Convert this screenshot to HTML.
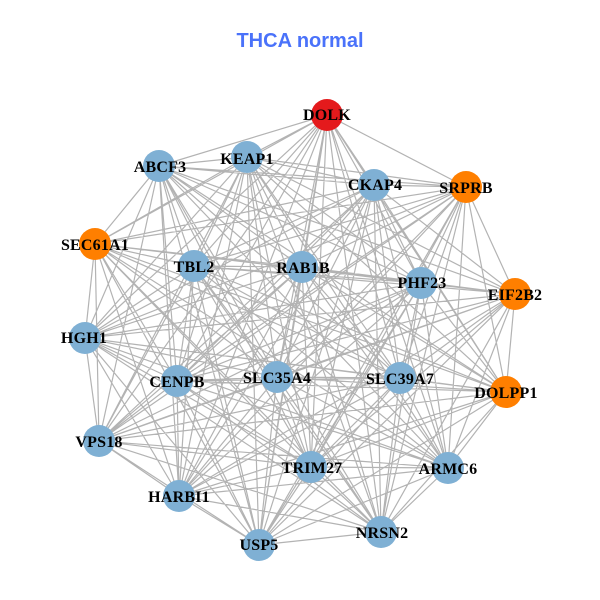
<!DOCTYPE html>
<html><head><meta charset="utf-8"><style>
html,body{margin:0;padding:0;background:#fff}
svg{display:block}
.n{font:bold 16px "Liberation Serif",serif;text-anchor:middle;fill:#000;letter-spacing:.2px}
</style></head><body>
<svg width="600" height="600" viewBox="0 0 600 600" xmlns="http://www.w3.org/2000/svg">
<rect width="600" height="600" fill="#fff"/>
<text x="300" y="47" text-anchor="middle" style="font:bold 20px 'Liberation Sans',sans-serif" fill="#4a72fa">THCA normal</text>
<path fill="none" stroke="#b3b3b3" stroke-width="1.2" stroke-linejoin="round" d="
M327 115L159 166 327 115 247 157 327 115 374 185 327 115 466 187 327 115 95 244 327 115 194 266 327 115 302 267 327 115 421 283 327 115 85 338 327 115 177 381 327 115 277 377 327 115 400 378 327 115 506 392 327 115 99 441 327 115 311 467 327 115 448 468 327 115 179 496 327 115 259 545 327 115 381 532
M159 166L247 157 159 166 374 185 159 166 466 187 159 166 95 244 159 166 194 266 159 166 302 267 159 166 421 283 159 166 515 294 159 166 85 338 159 166 177 381 159 166 277 377 159 166 400 378 159 166 506 392 159 166 99 441 159 166 311 467 159 166 448 468 159 166 179 496 159 166 259 545 159 166 381 532
M247 157L374 185 247 157 466 187 247 157 95 244 247 157 194 266 247 157 302 267 247 157 421 283 247 157 515 294 247 157 85 338 247 157 177 381 247 157 277 377 247 157 400 378 247 157 506 392 247 157 99 441 247 157 311 467 247 157 448 468 247 157 179 496 247 157 259 545 247 157 381 532
M374 185L466 187 374 185 95 244 374 185 194 266 374 185 302 267 374 185 421 283 374 185 515 294 374 185 85 338 374 185 177 381 374 185 277 377 374 185 400 378 374 185 506 392 374 185 99 441 374 185 311 467 374 185 448 468 374 185 179 496 374 185 259 545 374 185 381 532
M466 187L95 244 466 187 194 266 466 187 302 267 466 187 421 283 466 187 515 294 466 187 85 338 466 187 177 381 466 187 277 377 466 187 400 378 466 187 506 392 466 187 99 441 466 187 311 467 466 187 448 468 466 187 179 496 466 187 259 545 466 187 381 532
M95 244L194 266 95 244 302 267 95 244 421 283 95 244 515 294 95 244 85 338 95 244 177 381 95 244 277 377 95 244 400 378 95 244 506 392 95 244 99 441 95 244 311 467 95 244 448 468 95 244 179 496 95 244 259 545 95 244 381 532
M194 266L302 267 194 266 421 283 194 266 515 294 194 266 85 338 194 266 177 381 194 266 277 377 194 266 400 378 194 266 506 392 194 266 99 441 194 266 311 467 194 266 448 468 194 266 179 496 194 266 259 545 194 266 381 532
M302 267L421 283 302 267 515 294 302 267 85 338 302 267 177 381 302 267 277 377 302 267 400 378 302 267 506 392 302 267 99 441 302 267 311 467 302 267 448 468 302 267 179 496 302 267 259 545 302 267 381 532
M421 283L515 294 421 283 85 338 421 283 177 381 421 283 277 377 421 283 400 378 421 283 506 392 421 283 99 441 421 283 311 467 421 283 448 468 421 283 179 496 421 283 259 545 421 283 381 532
M515 294L85 338 515 294 177 381 515 294 277 377 515 294 400 378 515 294 506 392 515 294 99 441 515 294 311 467 515 294 448 468 515 294 179 496 515 294 259 545 515 294 381 532
M85 338L177 381 85 338 277 377 85 338 400 378 85 338 506 392 85 338 99 441 85 338 311 467 85 338 448 468 85 338 179 496 85 338 259 545 85 338 381 532
M177 381L277 377 177 381 400 378 177 381 506 392 177 381 99 441 177 381 311 467 177 381 448 468 177 381 179 496 177 381 259 545 177 381 381 532
M277 377L400 378 277 377 506 392 277 377 99 441 277 377 311 467 277 377 448 468 277 377 179 496 277 377 259 545 277 377 381 532
M400 378L506 392 400 378 99 441 400 378 311 467 400 378 448 468 400 378 179 496 400 378 259 545 400 378 381 532
M506 392L99 441 506 392 311 467 506 392 448 468 506 392 179 496 506 392 259 545 506 392 381 532
M99 441L311 467 99 441 448 468 99 441 179 496 99 441 259 545 99 441 381 532
M311 467L448 468 311 467 179 496 311 467 259 545 311 467 381 532
M448 468L179 496 448 468 259 545 448 468 381 532
M179 496L259 545 179 496 381 532
M259 545L381 532"/>
<g fill="#7fb0d4">
<circle cx="159" cy="166" r="16"/><circle cx="247" cy="157" r="16"/><circle cx="374" cy="185" r="16"/><circle cx="194" cy="266" r="16"/><circle cx="302" cy="267" r="16"/><circle cx="421" cy="283" r="16"/><circle cx="85" cy="338" r="16"/><circle cx="177" cy="381" r="16"/><circle cx="277" cy="377" r="16"/><circle cx="400" cy="378" r="16"/><circle cx="99" cy="441" r="16"/><circle cx="311" cy="467" r="16"/><circle cx="448" cy="468" r="16"/><circle cx="179" cy="496" r="16"/><circle cx="259" cy="545" r="16"/><circle cx="381" cy="532" r="16"/>
</g>
<circle cx="327" cy="115" r="16" fill="#e41a1c"/>
<g fill="#ff7f00">
<circle cx="466" cy="187" r="16"/><circle cx="95" cy="244" r="16"/><circle cx="515" cy="294" r="16"/><circle cx="506" cy="392" r="16"/>
</g>
<text class="n" x="327" y="120">DOLK</text>
<text class="n" x="160" y="172">ABCF3</text>
<text class="n" x="247" y="164">KEAP1</text>
<text class="n" x="375" y="190">CKAP4</text>
<text class="n" x="466" y="193">SRPRB</text>
<text class="n" x="95" y="250">SEC61A1</text>
<text class="n" x="194" y="272">TBL2</text>
<text class="n" x="303" y="273">RAB1B</text>
<text class="n" x="422" y="288">PHF23</text>
<text class="n" x="515" y="300">EIF2B2</text>
<text class="n" x="84" y="343">HGH1</text>
<text class="n" x="177" y="387">CENPB</text>
<text class="n" x="277" y="383">SLC35A4</text>
<text class="n" x="400" y="384">SLC39A7</text>
<text class="n" x="506" y="398">DOLPP1</text>
<text class="n" x="99" y="447">VPS18</text>
<text class="n" x="312" y="473">TRIM27</text>
<text class="n" x="448" y="474">ARMC6</text>
<text class="n" x="179" y="502">HARBI1</text>
<text class="n" x="259" y="550">USP5</text>
<text class="n" x="382" y="538">NRSN2</text>
</svg>
</body></html>
